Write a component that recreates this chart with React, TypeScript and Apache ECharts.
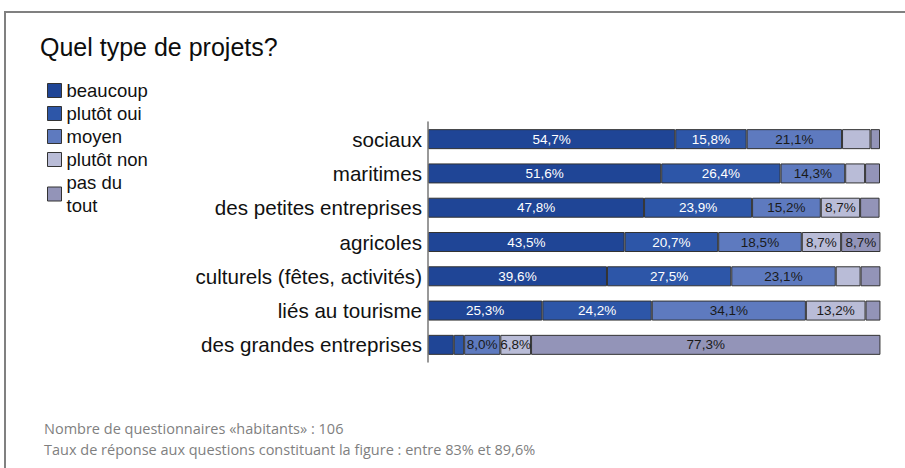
import React, { useEffect, useRef } from "react";
import * as echarts from "echarts";

const categories = [
  "sociaux",
  "maritimes",
  "des petites entreprises",
  "agricoles",
  "culturels (fêtes, activités)",
  "liés au tourisme",
  "des grandes entreprises",
];

const seriesNames = ["beaucoup", "plutôt oui", "moyen", "plutôt non", "pas du tout"];

const beaucoup = [54.7, 51.6, 47.8, 43.5, 39.6, 25.3, 5.7];
const plutotOui = [15.8, 26.4, 23.9, 20.7, 27.5, 24.2, 2.3];
const moyen = [21.1, 14.3, 15.2, 18.5, 23.1, 34.1, 8.0];
const plutotNon = [6.3, 4.4, 8.7, 8.7, 5.5, 13.2, 6.8];
const pasDuTout = [2.1, 3.3, 4.3, 8.7, 4.4, 3.3, 77.3];

const seriesValues = [beaucoup, plutotOui, moyen, plutotNon, pasDuTout];
const seriesColors = ["#1f4596", "#2d56a8", "#5e7abf", "#b9bcd7", "#9394b8"];
const labelColors = ["#ffffff", "#ffffff", "#1a1a1a", "#1a1a1a", "#1a1a1a"];

const titleText = "Quel type de projets?";
const footerLines = [
  "Nombre de questionnaires «habitants» : 106",
  "Taux de réponse aux questions constituant la figure : entre 83% et 89,6%",
];

const FONT = "'Liberation Sans', Arial, sans-serif";
const FOOT_FONT = "14.5px 'Open Sans', sans-serif";

export default function App() {
  const ref = useRef<HTMLDivElement>(null);

  useEffect(() => {
    if (!ref.current) return;
    const chart = echarts.init(ref.current, null, { renderer: "svg" });
    const option: any = {
      animation: false,
      backgroundColor: "#ffffff",
      textStyle: { fontFamily: FONT },
      graphic: [
        {
          type: "rect",
          shape: { x: 5, y: 12, width: 1000, height: 1000 },
          style: { fill: "none", stroke: "#808080", lineWidth: 2 },
          silent: true,
        },
        {
          type: "text",
          x: 40,
          y: 47,
          style: {
            text: titleText,
            font: `25px ${FONT}`,
            fill: "#0d0d0d",
            verticalAlign: "middle",
          },
        },
        {
          type: "text",
          x: 44,
          y: 428,
          style: {
            text: footerLines[0],
            font: FOOT_FONT,
            fill: "#7f7f7f",
            verticalAlign: "middle",
          },
        },
        {
          type: "text",
          x: 44,
          y: 449,
          style: {
            text: footerLines[1],
            font: FOOT_FONT,
            fill: "#7f7f7f",
            verticalAlign: "middle",
          },
        },
      ],
      legend: {
        orient: "vertical",
        left: 47,
        top: 79,
        padding: 0,
        itemWidth: 14,
        itemHeight: 14,
        itemGap: 0,
        icon: "rect",
        data: seriesNames,
        itemStyle: { borderColor: "#333333", borderWidth: 1 },
        textStyle: { fontSize: 18.5, lineHeight: 23, color: "#111111", fontFamily: FONT },
        formatter: (name: string) => (name === "pas du tout" ? "pas du\ntout" : name),
        selectedMode: false,
      },
      grid: { left: 428, right: 25, top: 122, height: 240, containLabel: false },
      xAxis: {
        type: "value",
        min: 0,
        max: 100,
        show: false,
      },
      yAxis: {
        type: "category",
        data: categories,
        inverse: true,
        axisTick: { show: false },
        axisLine: { show: true, lineStyle: { color: "#777777", width: 1.5 } },
        axisLabel: { fontSize: 20.6, color: "#111111", margin: 6, fontFamily: FONT },
        z: 10,
      },
      series: seriesNames.map((name, i) => ({
        name,
        type: "bar",
        stack: "total",
        barWidth: 20,
        data: seriesValues[i],
        itemStyle: { color: seriesColors[i], borderColor: "#333333", borderWidth: 1 },
        label: {
          show: true,
          position: "inside",
          color: labelColors[i],
          fontSize: 13.5,
          fontFamily: FONT,
          formatter: (p: any) =>
            p.value >= 6.5 ? `${Number(p.value).toFixed(1).replace(".", ",")}%` : "",
        },
      })),
    };
    chart.setOption(option);
    return () => chart.dispose();
  }, []);

  return (
    <div
      ref={ref}
      style={{ position: "fixed", left: 0, top: 0, width: 905, height: 468 }}
    />
  );
}
